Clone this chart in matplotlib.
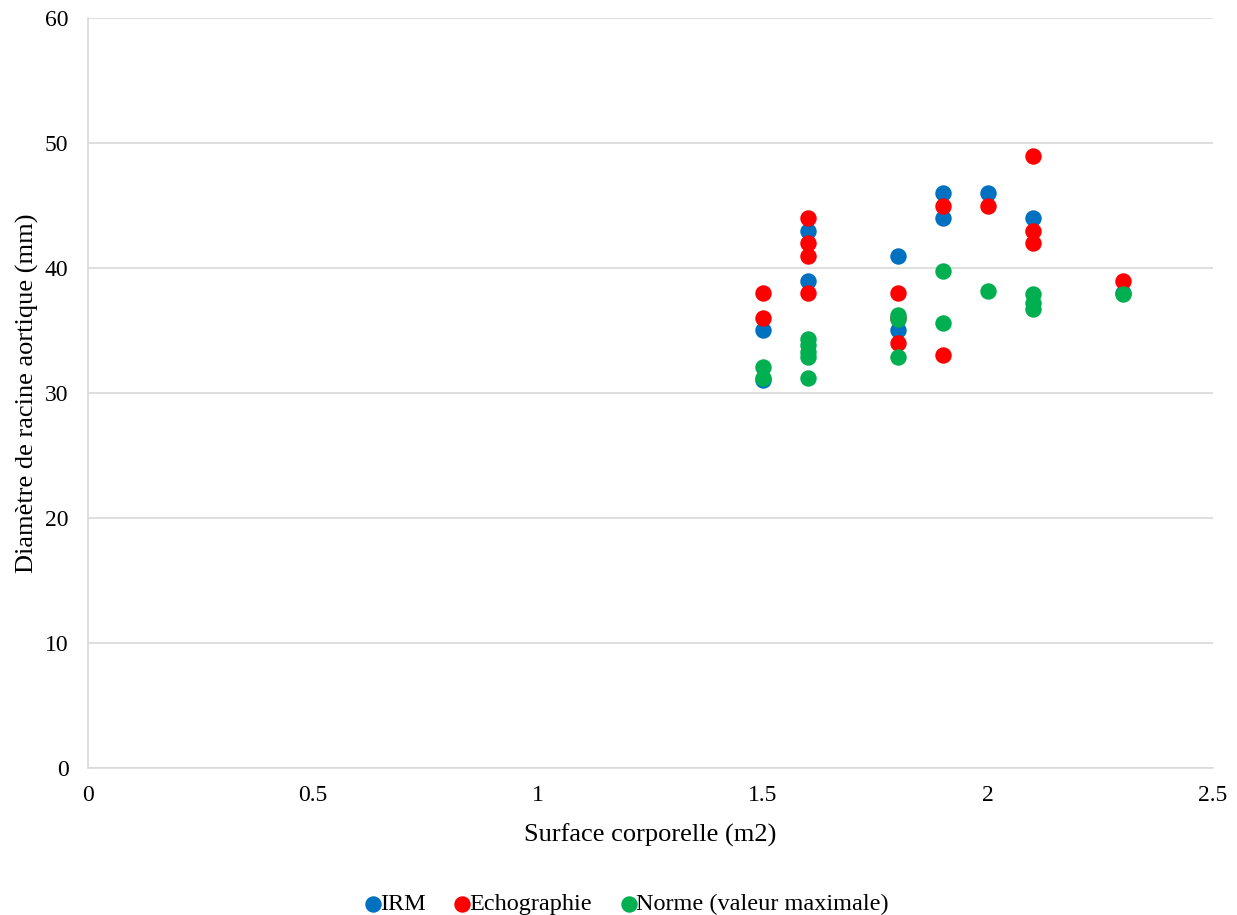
import matplotlib.pyplot as plt
from matplotlib.ticker import FuncFormatter

# Surface corporelle (m2) vs diametre de racine aortique (mm)
irm_x = [1.5, 1.5, 1.6, 1.6, 1.8, 1.8, 1.9, 1.9, 2.0, 2.1, 2.3]
irm_y = [35, 31, 43, 39, 41, 35, 46, 44, 46, 44, 38]

echo_x = [1.5, 1.5, 1.6, 1.6, 1.6, 1.6, 1.8, 1.8, 1.8, 1.9, 1.9, 2.0, 2.1, 2.1, 2.1, 2.3]
echo_y = [38, 36, 44, 42, 41, 38, 38, 36, 34, 45, 33, 45, 49, 43, 42, 39]

norme_x = [1.5, 1.5, 1.6, 1.6, 1.6, 1.6, 1.6, 1.8, 1.8, 1.8, 1.9, 1.9, 2.0, 2.1, 2.1, 2.1, 2.3]
norme_y = [32.1, 31.2, 34.3, 33.8, 33.3, 32.9, 31.2, 36.2, 35.9, 32.9, 39.8, 35.6, 38.2, 37.9, 37.2, 36.7, 37.9]

plt.rcParams["font.family"] = ["Liberation Serif", "DejaVu Serif"]

fig = plt.figure(figsize=(12.37, 9.15), dpi=100)
ax = fig.add_axes([0.0711, 0.1607, 0.9095, 0.8196])

ax.scatter(irm_x, irm_y, s=140, color="#0070C0", label="IRM", zorder=3, linewidths=0)
ax.scatter(echo_x, echo_y, s=140, color="#FF0000", label="Echographie", zorder=3, linewidths=0)
ax.scatter(norme_x, norme_y, s=140, color="#00B050", label="Norme (valeur maximale)", zorder=3, linewidths=0)

ax.set_xlim(0, 2.5)
ax.set_ylim(0, 60)
ax.set_xticks([0, 0.5, 1, 1.5, 2, 2.5])
ax.set_yticks(range(0, 61, 10))
ax.xaxis.set_major_formatter(FuncFormatter(lambda v, p: "{:g}".format(v)))
ax.tick_params(length=0, labelsize=17, pad=12)
ax.tick_params(axis="y", pad=14)

ax.grid(True, axis="y", color="#d9d9d9", linewidth=1.2)
ax.set_axisbelow(True)
for side in ["top", "right"]:
    ax.spines[side].set_visible(False)
ax.spines["left"].set_color("#d9d9d9")
ax.spines["bottom"].set_color("#d9d9d9")
ax.spines["left"].set_linewidth(1.2)
ax.spines["bottom"].set_linewidth(1.2)

ax.set_xlabel("Surface corporelle (m2)", fontsize=19, labelpad=13)
ax.set_ylabel("Diamètre de racine aortique (mm)", fontsize=19, labelpad=4)

fig.legend(loc="lower center", bbox_to_anchor=(0.5, -0.024), ncol=3, frameon=False,
           fontsize=17.5, handletextpad=-0.7, columnspacing=0.5, markerscale=1.0)

fig.savefig("out.png", dpi=100)
